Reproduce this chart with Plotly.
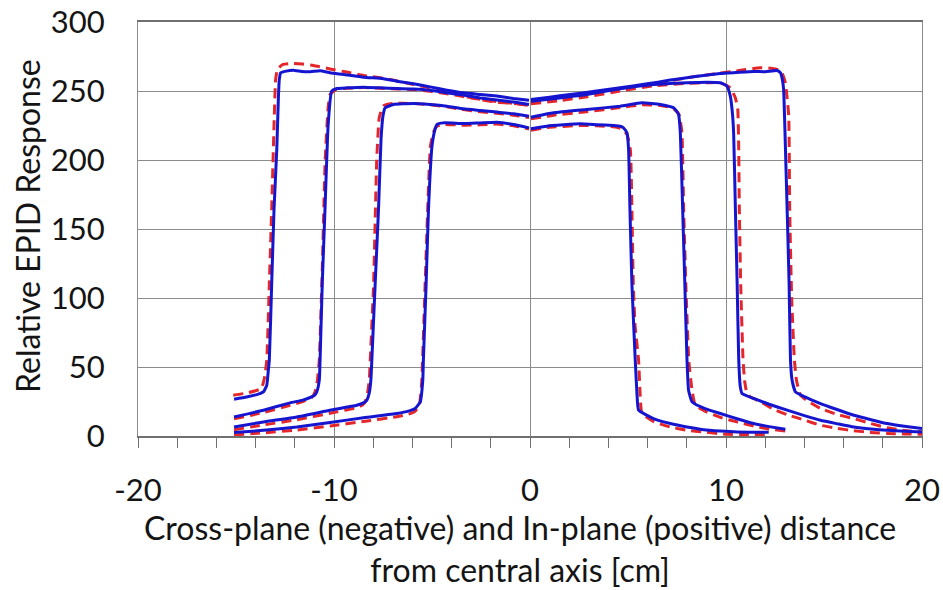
import plotly.graph_objects as go

# ---- Field profiles: cross-plane (negative x) and in-plane (positive x) ----
# Largest field
f1_cross_x = [-15.1, -14.46, -13.9, -13.6, -13.43, -13.35, -13.3, -13.18, -13.06, -12.92, -12.84,
              -12.79, -12.72, -12.5, -12.08, -11.65, -11.2, -10.71, -10.2, -9.52, -8.5, -7.48, -6.8,
              -5.95, -5.1, -4.24, -3.4, -2.54, -1.69, -0.84, -0.05]
f1_cross_meas = [26.7, 28.3, 30.2, 32.0, 36.8, 47.7, 55, 110, 164, 207.5, 243.8,
                 258.4, 263.2, 264.2, 265.1, 264.2, 264.0, 264.7, 263.2, 262.0, 260.0, 258.9, 257.1,
                 255.2, 253.0, 250.6, 248.7, 247.5, 246.3, 244.6, 243.3]
f1_cross_calc_x = [-15.14, -14.5, -14.0, -13.7, -13.55, -13.43, -13.3, -13.18, -13.05, -12.98, -12.88,
                   -12.6, -12.08, -11.6, -11.05, -10.2, -9.35, -8.5, -7.31, -5.95, -4.24, -3.4, -2.54,
                   -1.69, -0.08]
f1_cross_calc = [29.6, 31.0, 32.8, 34.4, 42.0, 55, 110, 164, 230, 258, 266,
                 269.3, 270.0, 269.5, 268.5, 266.0, 263.7, 261.3, 258.9, 254.7, 249.9, 246.3, 243.8,
                 241.9, 240.2]
f1_in_x = [0.05, 1.0, 2.05, 3.3, 4.6, 5.9, 7.16, 8.0, 8.86, 9.71, 10.5, 11.41, 12.0, 12.6, 12.78,
           12.88, 12.94, 13.03, 13.12, 13.22, 13.29, 13.37, 13.54, 14.0, 14.82, 15.7, 16.52, 17.4,
           18.22, 19.1, 20.0]
f1_in_meas = [243.8, 245.5, 247.5, 249.8, 252.3, 255.0, 257.9, 259.6, 261.3, 262.7, 263.4, 264.2,
              264.0, 264.9, 263.2, 258, 251.1, 210, 164, 110, 55, 40.5, 32.0, 28.5, 23.5, 19.0, 15.0,
              11.8, 9.0, 7.0, 5.4]
f1_in_calc_x = [0.05, 1.0, 2.05, 3.3, 4.6, 5.9, 7.16, 8.0, 8.86, 9.71, 10.5, 11.0, 11.75, 12.3,
                12.65, 12.85, 13.03, 13.2, 13.25, 13.35, 13.49, 13.6, 13.8, 14.2, 14.82, 15.7, 16.52,
                17.4, 18.22, 19.1, 20.0]
f1_in_calc = [241.4, 243.5, 246.0, 248.8, 251.5, 254.5, 257.5, 259.5, 261.3, 263.0, 264.5, 265.5,
              266.9, 266.5, 265.5, 263.5, 256, 231.7, 164, 100, 55, 40, 29.6, 25.0, 20.0, 15.5,
              12.6, 9.0, 6.0, 4.0, 3.0]

# Second field
f2_cross_x = [-15.1, -13.6, -12.24, -11.6, -11.22, -11.0, -10.88, -10.75, -10.71, -10.6, -10.46,
              -10.3, -10.12, -9.86, -9.35, -8.5, -7.65, -6.8, -5.95, -5.1, -4.24, -3.4, -2.54,
              -1.69, -0.84, -0.05]
f2_cross_meas = [13.8, 18.7, 24.0, 26.0, 27.9, 29.5, 32.0, 40.5, 55, 110, 164,
                 225, 249.9, 251.8, 252.3, 252.8, 252.3, 251.8, 251.5, 250.6, 248.7, 247.0, 245.0,
                 243.4, 242.0, 240.2]
f2_cross_calc_x = [-15.1, -13.6, -12.24, -11.6, -11.14, -10.98, -10.85, -10.75, -10.6, -10.45,
                   -10.3, -10.2, -9.9, -9.35, -8.5, -7.65, -6.8, -5.95, -5.1, -4.24, -3.4, -2.54,
                   -1.69, -0.84, -0.05]
f2_cross_calc = [12.5, 17.0, 22.3, 25.0, 28.0, 31.5, 40, 55, 120, 200,
                 238, 247.5, 251.0, 252.0, 252.5, 252.0, 251.5, 251.0, 249.8, 248.0, 246.0, 244.0,
                 242.3, 241.0, 239.5]
f2_in_x = [0.05, 1.5, 2.9, 4.6, 6.3, 8.01, 9.03, 9.71, 10.05, 10.22, 10.32, 10.39, 10.48, 10.57,
           10.65, 10.73, 10.82, 11.41, 12.2, 13.12, 14.0, 14.82, 15.7, 16.52, 17.4, 18.22, 19.1, 20.0]
f2_in_meas = [242.6, 245.0, 247.5, 251.6, 254.7, 256.0, 256.4, 256.0, 253.5, 246.3, 235, 219.6,
              164, 110, 55, 35.6, 30.8, 27.2, 23.0, 18.7, 14.8, 11.4, 8.8, 6.5, 5.0, 4.1, 3.4, 2.9]
f2_in_calc_x = [0.05, 1.5, 2.9, 4.6, 6.3, 8.01, 9.03, 9.71, 10.22, 10.48, 10.6, 10.65, 10.68,
                10.75, 10.87, 10.95, 11.05, 11.24, 11.8, 12.4, 13.12, 14.0, 14.82, 15.7, 16.52,
                17.4, 18.22, 19.1, 20.0]
f2_in_calc = [240.8, 243.0, 245.8, 250.0, 253.8, 255.5, 256.0, 256.0, 252.3, 245.0, 236.6, 207.5,
              164, 110, 55, 40, 32, 28.3, 24.5, 19.5, 15.5, 11.5, 7.8, 5.5, 3.8, 2.6, 1.9, 1.5, 1.2]

# Third field
f3_cross_x = [-15.1, -13.6, -11.9, -10.2, -8.84, -8.5, -8.33, -8.19, -8.12, -8.07, -7.9, -7.73,
              -7.6, -7.5, -7.39, -6.97, -5.95, -5.1, -4.24, -3.4, -2.54, -1.69, -0.84, -0.05]
f3_cross_meas = [6.5, 10.2, 13.8, 18.7, 22.3, 24.0, 25.9, 32.0, 40.5, 55, 110, 164,
                 215, 232, 237.8, 240.2, 240.9, 240.2, 239.0, 237.1, 235.9, 234.7, 233.5, 231.7]
f3_cross_calc_x = [-15.1, -13.6, -11.9, -10.2, -8.84, -8.55, -8.41, -8.28, -8.2, -8.15, -7.98,
                   -7.82, -7.7, -7.58, -7.45, -7.0, -5.95, -5.1, -4.24, -3.4, -2.54, -1.69, -0.84,
                   -0.05]
f3_cross_calc = [4.5, 8.0, 11.8, 16.5, 20.5, 22.5, 24.7, 32, 40.5, 55, 110, 200,
                 230, 236.5, 239.5, 241.0, 240.9, 240.0, 238.5, 236.5, 235.0, 233.8, 232.5, 230.8]
f3_in_x = [0.05, 1.2, 2.9, 4.6, 5.71, 6.65, 7.33, 7.58, 7.67, 7.79, 7.9, 8.01, 8.09, 8.27, 8.9,
           9.71, 10.56, 11.41, 12.2, 13.03]
f3_in_meas = [231.0, 234.2, 236.6, 239.0, 241.4, 240.2, 237.8, 233.0, 219.6, 164, 110, 55, 33.2,
              24.7, 20.0, 16.3, 12.5, 9.0, 6.8, 4.9]
f3_in_calc_x = [0.05, 1.2, 2.9, 4.6, 5.71, 6.65, 7.3, 7.6, 7.75, 7.84, 7.95, 8.1, 8.25, 8.43,
                9.0, 9.71, 10.56, 11.41, 12.2, 13.03]
f3_in_calc = [229.8, 232.5, 235.0, 238.0, 240.0, 239.5, 237.5, 233.0, 220, 164, 110, 55, 35,
              22.3, 17.5, 13.5, 10.2, 7.2, 5.0, 3.6]

# Smallest field
f4_cross_x = [-15.1, -13.6, -11.9, -10.2, -8.5, -6.8, -6.2, -5.86, -5.6, -5.47, -5.44, -5.3,
              -5.18, -5.0, -4.85, -4.75, -4.42, -3.4, -2.54, -1.69, -0.84, -0.05]
f4_cross_meas = [2.5, 4.1, 6.5, 9.7, 13.3, 16.3, 18.0, 19.9, 24.7, 40.5, 55, 110,
                 164, 210, 222, 225.7, 226.9, 226.4, 226.9, 227.4, 225.7, 223.3]
f4_cross_calc_x = [-15.1, -13.6, -11.9, -10.2, -8.5, -6.8, -6.2, -5.9, -5.65, -5.52, -5.48,
                   -5.35, -5.22, -5.08, -4.9, -4.75, -4.4, -3.4, -2.54, -1.69, -0.84, -0.05]
f4_cross_calc = [0.8, 2.3, 4.3, 7.2, 10.5, 14.0, 15.8, 17.5, 22.0, 40, 55,
                 110, 164, 210, 221, 224.5, 225.8, 225.2, 225.5, 226.0, 224.8, 222.5]
f4_in_x = [0.05, 0.86, 2.56, 3.4, 4.26, 4.6, 4.77, 4.95, 5.03, 5.1, 5.2, 5.37, 5.46, 5.54, 6.3,
           7.16, 8.01, 8.86, 9.71, 10.56, 12.18]
f4_in_meas = [222.6, 224.5, 226.2, 225.6, 225.0, 224.5, 223.3, 219.6, 207.5, 164, 110, 55, 30,
              18.7, 12.6, 9.0, 6.5, 4.6, 3.6, 2.9, 2.7]
f4_in_calc_x = [0.05, 0.86, 2.56, 3.4, 4.26, 4.7, 4.95, 5.12, 5.2, 5.27, 5.36, 5.54, 5.62, 5.71,
                6.3, 7.16, 8.01, 8.86, 10.05, 11.0, 12.18]
f4_in_calc = [221.5, 223.5, 225.0, 224.8, 224.0, 222.5, 218.5, 207.5, 164, 110, 80, 55, 30,
              16.3, 10.5, 6.5, 4.2, 2.9, 1.2, 1.0, 1.2]

# Axis settings
x_range = [-20, 20]
y_range = [0, 300]
x_tick_values = [-20, -10, 0, 10, 20]
x_tick_labels = ["-20", "-10", "0", "10", "20"]
x_title_lines = ["Cross-plane (negative) and In-plane (positive) distance",
                 "from central axis [cm]"]
y_title = "Relative EPID Response"

BLUE = "#1515CF"
RED = "#E4262B"
GRID = "#8C8C8C"
AXIS = "#707070"
FONT = "Lato, Calibri, 'DejaVu Sans', sans-serif"

calc_curves = [
    (f1_cross_calc_x, f1_cross_calc), (f1_in_calc_x, f1_in_calc),
    (f2_cross_calc_x, f2_cross_calc), (f2_in_calc_x, f2_in_calc),
    (f3_cross_calc_x, f3_cross_calc), (f3_in_calc_x, f3_in_calc),
    (f4_cross_calc_x, f4_cross_calc), (f4_in_calc_x, f4_in_calc),
]
meas_curves = [
    (f1_cross_x, f1_cross_meas), (f1_in_x, f1_in_meas),
    (f2_cross_x, f2_cross_meas), (f2_in_x, f2_in_meas),
    (f3_cross_x, f3_cross_meas), (f3_in_x, f3_in_meas),
    (f4_cross_x, f4_cross_meas), (f4_in_x, f4_in_meas),
]

fig = go.Figure()
for xs, ys in calc_curves:
    fig.add_trace(go.Scatter(x=xs, y=ys, mode="lines",
                             line=dict(color=RED, width=3, dash="10px,6px", shape="spline",
                                       smoothing=0.4),
                             hoverinfo="skip"))
for xs, ys in meas_curves:
    fig.add_trace(go.Scatter(x=xs, y=ys, mode="lines",
                             line=dict(color=BLUE, width=3, shape="spline", smoothing=0.4),
                             hoverinfo="skip"))

fig.update_layout(
    width=943, height=590,
    margin=dict(l=138, r=21, t=22, b=154),
    paper_bgcolor="white", plot_bgcolor="white",
    showlegend=False,
    font=dict(family=FONT, size=31, color="#141414"),
)
fig.update_xaxes(
    range=x_range, tickmode="array", tickvals=x_tick_values, ticktext=x_tick_labels,
    automargin=False,
    showgrid=True, gridcolor=GRID, gridwidth=1,
    zeroline=False,
    showline=True, linecolor=AXIS, linewidth=1.5, mirror=True,
    ticks="outside", ticklen=10, tickcolor=AXIS, tickwidth=1,
    minor=dict(tickmode="linear", tick0=0, dtick=2, ticks="outside", ticklen=10,
               tickcolor=AXIS, showgrid=False),
    ticklabelstandoff=16,
)
fig.update_yaxes(
    range=y_range, tick0=0, dtick=50,
    automargin=False,
    showgrid=True, gridcolor=GRID, gridwidth=1,
    zeroline=False,
    showline=True, linecolor=GRID, linewidth=1, mirror=True,
    ticks="", ticklabelstandoff=26,
)

# Two-line x-axis title, centred under the plot
fig.add_annotation(text="<br>".join(x_title_lines), xref="paper", yref="paper",
                   x=0.487, y=-0.271, xanchor="center", yanchor="middle", align="center",
                   showarrow=False, font=dict(size=32))
fig.add_annotation(text=y_title, xref="paper", yref="paper",
                   x=-0.1408, y=0.5065, xanchor="center", yanchor="middle",
                   textangle=-90, showarrow=False, font=dict(size=32))

fig.write_html("out.html")
